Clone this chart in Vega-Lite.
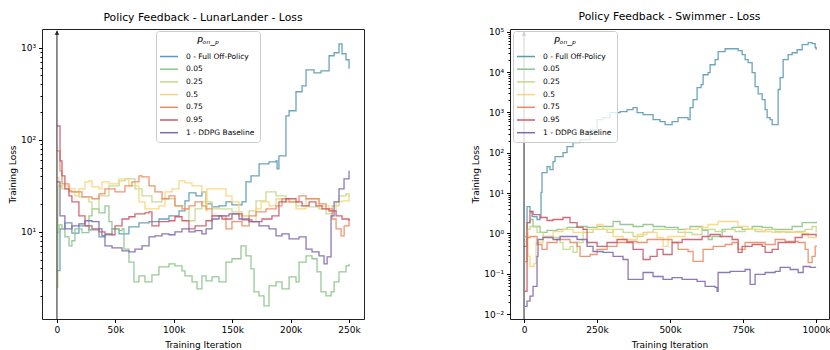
{
"$schema": "https://vega.github.io/schema/vega-lite/v6.json",
"background": "white",
"padding": {"left": 7, "top": 10, "right": 0, "bottom": 0},
"spacing": 106,
"config": {
 "font": "DejaVu Sans",
 "view": {"stroke": "#222", "strokeWidth": 1},
 "axis": {"grid": false, "domain": false, "tickColor": "#000", "labelColor": "#000", "titleColor": "#000", "labelFontSize": 9, "titleFontSize": 9, "titleFontWeight": "normal", "labelFont": "DejaVu Sans", "titleFont": "DejaVu Sans", "labelOverlap": false, "labelBound": false, "labelPadding": 3, "tickSize": 3.5},
 "axisX": {"titlePadding": 6},
 "legend": {"symbolType": "M-1.8,0L1.8,0", "symbolSize": 100, "symbolStrokeWidth": 1.5, "symbolOffset": 2, "labelOffset": 11, "labelFontSize": 7.5, "labelFont": "DejaVu Sans", "labelColor": "#000", "titleFontSize": 9.5, "titleFontStyle": "italic", "titleFontWeight": "normal", "titleFont": "DejaVu Sans", "titleColor": "#000", "titleAnchor": "middle", "strokeColor": "#cccccc", "fillColor": "rgba(255,255,255,0.8)", "cornerRadius": 3, "padding": 5, "rowPadding": 2.7}
},
"resolve": {"legend": {"color": "independent"}, "scale": {"x": "independent", "y": "independent"}},
"datasets": {
"lunar": [
{"p":"0","x":0,"y":3.8},{"p":"0","x":2600,"y":10.8},{"p":"0","x":6800,"y":12.5},{"p":"0","x":12800,"y":9.7},{"p":"0","x":18800,"y":11.6},{"p":"0","x":27400,"y":10.5},{"p":"0","x":36000,"y":8.8},{"p":"0","x":41100,"y":9.3},{"p":"0","x":47100,"y":10.8},{"p":"0","x":53100,"y":9.5},{"p":"0","x":61600,"y":11.3},{"p":"0","x":70200,"y":12.5},{"p":"0","x":78800,"y":12.9},{"p":"0","x":87300,"y":13.8},{"p":"0","x":95900,"y":14.9},{"p":"0","x":104500,"y":16.9},{"p":"0","x":109600,"y":21.7},{"p":"0","x":113000,"y":26.5},{"p":"0","x":119000,"y":24.6},{"p":"0","x":124100,"y":27.2},{"p":"0","x":127600,"y":20.1},{"p":"0","x":132700,"y":18.7},{"p":"0","x":138700,"y":19.2},{"p":"0","x":144700,"y":21.2},{"p":"0","x":149800,"y":19.6},{"p":"0","x":158400,"y":21.2},{"p":"0","x":161800,"y":34.9},{"p":"0","x":166100,"y":40.6},{"p":"0","x":173000,"y":54.8},{"p":"0","x":181500,"y":57.7},{"p":"0","x":187500,"y":59.1},{"p":"0","x":188400,"y":48.4},{"p":"0","x":190000,"y":67},{"p":"0","x":196000,"y":182},{"p":"0","x":198700,"y":207},{"p":"0","x":204600,"y":333},{"p":"0","x":209800,"y":386},{"p":"0","x":213200,"y":576},{"p":"0","x":220000,"y":535},{"p":"0","x":226000,"y":562},{"p":"0","x":232900,"y":819},{"p":"0","x":237200,"y":883},{"p":"0","x":241400,"y":1105},{"p":"0","x":244000,"y":861},{"p":"0","x":247400,"y":741},{"p":"0","x":250000,"y":591},
{"p":"0.05","x":0,"y":9.8},{"p":"0.05","x":1700,"y":11.9},{"p":"0.05","x":4300,"y":10.8},{"p":"0.05","x":6800,"y":8.8},{"p":"0.05","x":10300,"y":7.05},{"p":"0.05","x":12800,"y":8.0},{"p":"0.05","x":15400,"y":10.8},{"p":"0.05","x":21400,"y":9.8},{"p":"0.05","x":27400,"y":14.9},{"p":"0.05","x":30000,"y":17.8},{"p":"0.05","x":36000,"y":16.1},{"p":"0.05","x":41100,"y":19.2},{"p":"0.05","x":44500,"y":12.9},{"p":"0.05","x":47100,"y":10.8},{"p":"0.05","x":53100,"y":10.3},{"p":"0.05","x":55700,"y":10.8},{"p":"0.05","x":57400,"y":6.5},{"p":"0.05","x":61600,"y":4.7},{"p":"0.05","x":65900,"y":2.86},{"p":"0.05","x":70200,"y":3.32},{"p":"0.05","x":75300,"y":2.86},{"p":"0.05","x":81300,"y":3.41},{"p":"0.05","x":87300,"y":4.17},{"p":"0.05","x":95900,"y":4.49},{"p":"0.05","x":101000,"y":4.27},{"p":"0.05","x":107000,"y":3.77},{"p":"0.05","x":109600,"y":3.32},{"p":"0.05","x":115600,"y":2.86},{"p":"0.05","x":119900,"y":2.4},{"p":"0.05","x":124100,"y":3.32},{"p":"0.05","x":127600,"y":2.93},{"p":"0.05","x":132700,"y":3.24},{"p":"0.05","x":138700,"y":2.86},{"p":"0.05","x":144700,"y":4.7},{"p":"0.05","x":149800,"y":5.1},{"p":"0.05","x":157500,"y":7.05},{"p":"0.05","x":161800,"y":5.48},{"p":"0.05","x":166100,"y":3.96},{"p":"0.05","x":168700,"y":2.23},{"p":"0.05","x":173000,"y":2.02},{"p":"0.05","x":177200,"y":1.57},{"p":"0.05","x":181500,"y":2.59},{"p":"0.05","x":187500,"y":2.86},{"p":"0.05","x":192600,"y":2.4},{"p":"0.05","x":198700,"y":3.24},{"p":"0.05","x":204600,"y":2.86},{"p":"0.05","x":207200,"y":4.7},{"p":"0.05","x":213200,"y":5.48},{"p":"0.05","x":218300,"y":5.1},{"p":"0.05","x":222600,"y":3.67},{"p":"0.05","x":226000,"y":2.23},{"p":"0.05","x":230300,"y":2.02},{"p":"0.05","x":234600,"y":2.23},{"p":"0.05","x":237200,"y":2.86},{"p":"0.05","x":241400,"y":3.67},{"p":"0.05","x":247400,"y":4.27},{"p":"0.05","x":250000,"y":4.49},
{"p":"0.25","x":0,"y":2.5},{"p":"0.25","x":800,"y":31.6},{"p":"0.25","x":4300,"y":29.3},{"p":"0.25","x":10300,"y":27.2},{"p":"0.25","x":18800,"y":24},{"p":"0.25","x":27400,"y":21.2},{"p":"0.25","x":30000,"y":17.8},{"p":"0.25","x":36000,"y":24.6},{"p":"0.25","x":44500,"y":31.6},{"p":"0.25","x":53100,"y":35.8},{"p":"0.25","x":58200,"y":37.7},{"p":"0.25","x":66800,"y":29.3},{"p":"0.25","x":72800,"y":24.6},{"p":"0.25","x":81300,"y":21.2},{"p":"0.25","x":89900,"y":22.9},{"p":"0.25","x":101000,"y":19.2},{"p":"0.25","x":109600,"y":17.8},{"p":"0.25","x":113000,"y":13.2},{"p":"0.25","x":118200,"y":17.8},{"p":"0.25","x":124100,"y":21.2},{"p":"0.25","x":132700,"y":17.8},{"p":"0.25","x":141300,"y":17.8},{"p":"0.25","x":149800,"y":16.5},{"p":"0.25","x":158400,"y":14.9},{"p":"0.25","x":164400,"y":16.9},{"p":"0.25","x":170400,"y":21.7},{"p":"0.25","x":178900,"y":27.2},{"p":"0.25","x":187500,"y":24.6},{"p":"0.25","x":196000,"y":21.2},{"p":"0.25","x":204600,"y":19.2},{"p":"0.25","x":215800,"y":18.7},{"p":"0.25","x":224300,"y":17.8},{"p":"0.25","x":230300,"y":15.7},{"p":"0.25","x":235500,"y":19.2},{"p":"0.25","x":241400,"y":24.6},{"p":"0.25","x":247400,"y":25.9},{"p":"0.25","x":250000,"y":24},
{"p":"0.5","x":0,"y":38.6},{"p":"0.5","x":1700,"y":30.8},{"p":"0.5","x":4300,"y":31.6},{"p":"0.5","x":10300,"y":29.3},{"p":"0.5","x":15400,"y":24.6},{"p":"0.5","x":18800,"y":29.3},{"p":"0.5","x":24000,"y":34.9},{"p":"0.5","x":27400,"y":35.8},{"p":"0.5","x":30000,"y":30.8},{"p":"0.5","x":36000,"y":29.3},{"p":"0.5","x":38500,"y":34.9},{"p":"0.5","x":44500,"y":33.2},{"p":"0.5","x":53100,"y":37.7},{"p":"0.5","x":61600,"y":31.6},{"p":"0.5","x":70200,"y":21.2},{"p":"0.5","x":75300,"y":17.8},{"p":"0.5","x":81300,"y":17.8},{"p":"0.5","x":87300,"y":19.2},{"p":"0.5","x":92500,"y":27.2},{"p":"0.5","x":98500,"y":29.3},{"p":"0.5","x":104500,"y":35.8},{"p":"0.5","x":109600,"y":34.1},{"p":"0.5","x":115600,"y":31.6},{"p":"0.5","x":124100,"y":27.2},{"p":"0.5","x":127600,"y":16.9},{"p":"0.5","x":128400,"y":29.3},{"p":"0.5","x":134400,"y":29.3},{"p":"0.5","x":141300,"y":29.3},{"p":"0.5","x":144700,"y":24.6},{"p":"0.5","x":149800,"y":21.2},{"p":"0.5","x":155800,"y":14.9},{"p":"0.5","x":164400,"y":12.9},{"p":"0.5","x":170400,"y":17.8},{"p":"0.5","x":174700,"y":21.2},{"p":"0.5","x":181500,"y":19.2},{"p":"0.5","x":187500,"y":22.9},{"p":"0.5","x":192600,"y":21.2},{"p":"0.5","x":204600,"y":17.8},{"p":"0.5","x":213200,"y":22.9},{"p":"0.5","x":224300,"y":19.2},{"p":"0.5","x":232900,"y":16.9},{"p":"0.5","x":238900,"y":21.2},{"p":"0.5","x":244000,"y":21.7},{"p":"0.5","x":250000,"y":24.6},
{"p":"0.75","x":0,"y":75.9},{"p":"0.75","x":2600,"y":46},{"p":"0.75","x":4300,"y":33.2},{"p":"0.75","x":10300,"y":27.9},{"p":"0.75","x":12800,"y":27.2},{"p":"0.75","x":21400,"y":24},{"p":"0.75","x":30000,"y":22.9},{"p":"0.75","x":36000,"y":25.9},{"p":"0.75","x":41100,"y":29.3},{"p":"0.75","x":49700,"y":27.2},{"p":"0.75","x":58200,"y":31.6},{"p":"0.75","x":64200,"y":34.9},{"p":"0.75","x":70200,"y":40.6},{"p":"0.75","x":72800,"y":39.6},{"p":"0.75","x":78800,"y":31.6},{"p":"0.75","x":83900,"y":27.2},{"p":"0.75","x":89900,"y":22.9},{"p":"0.75","x":95900,"y":24.6},{"p":"0.75","x":101000,"y":19.2},{"p":"0.75","x":107000,"y":17.8},{"p":"0.75","x":113000,"y":19.2},{"p":"0.75","x":118200,"y":21.2},{"p":"0.75","x":124100,"y":19.2},{"p":"0.75","x":127600,"y":17.8},{"p":"0.75","x":132700,"y":14.9},{"p":"0.75","x":138700,"y":14.9},{"p":"0.75","x":144700,"y":10.8},{"p":"0.75","x":149800,"y":12.9},{"p":"0.75","x":158400,"y":11.6},{"p":"0.75","x":164400,"y":14.9},{"p":"0.75","x":170400,"y":16.5},{"p":"0.75","x":178900,"y":17.8},{"p":"0.75","x":187500,"y":19.2},{"p":"0.75","x":192600,"y":22.9},{"p":"0.75","x":198700,"y":21.2},{"p":"0.75","x":207200,"y":24.6},{"p":"0.75","x":213200,"y":22.9},{"p":"0.75","x":224300,"y":20.1},{"p":"0.75","x":230300,"y":17.8},{"p":"0.75","x":235500,"y":13.8},{"p":"0.75","x":238900,"y":10.8},{"p":"0.75","x":243200,"y":9.06},{"p":"0.75","x":245800,"y":11.6},{"p":"0.75","x":250000,"y":13.8},
{"p":"0.95","x":0,"y":142},{"p":"0.95","x":2600,"y":59.1},{"p":"0.95","x":4300,"y":40.6},{"p":"0.95","x":6800,"y":29.3},{"p":"0.95","x":10300,"y":24.6},{"p":"0.95","x":12800,"y":21.2},{"p":"0.95","x":18800,"y":14.9},{"p":"0.95","x":24000,"y":11.6},{"p":"0.95","x":30000,"y":10.8},{"p":"0.95","x":36000,"y":10},{"p":"0.95","x":41100,"y":9.5},{"p":"0.95","x":47100,"y":9.3},{"p":"0.95","x":49700,"y":11.6},{"p":"0.95","x":55700,"y":13.8},{"p":"0.95","x":61600,"y":14.6},{"p":"0.95","x":66800,"y":15.7},{"p":"0.95","x":75300,"y":16.1},{"p":"0.95","x":78800,"y":16.5},{"p":"0.95","x":81300,"y":11.6},{"p":"0.95","x":87300,"y":12.9},{"p":"0.95","x":95900,"y":13.2},{"p":"0.95","x":101000,"y":14.6},{"p":"0.95","x":107000,"y":13.2},{"p":"0.95","x":113000,"y":10.8},{"p":"0.95","x":118200,"y":11.6},{"p":"0.95","x":124100,"y":11.6},{"p":"0.95","x":127600,"y":13.2},{"p":"0.95","x":132700,"y":14.9},{"p":"0.95","x":141300,"y":13.8},{"p":"0.95","x":149800,"y":15.7},{"p":"0.95","x":158400,"y":13.5},{"p":"0.95","x":166900,"y":12.9},{"p":"0.95","x":175500,"y":13.8},{"p":"0.95","x":184000,"y":14.9},{"p":"0.95","x":190000,"y":21.2},{"p":"0.95","x":196000,"y":22.9},{"p":"0.95","x":204600,"y":21.2},{"p":"0.95","x":209800,"y":19.2},{"p":"0.95","x":215800,"y":21.2},{"p":"0.95","x":221700,"y":19.2},{"p":"0.95","x":226900,"y":17.8},{"p":"0.95","x":232900,"y":16.9},{"p":"0.95","x":238900,"y":14.9},{"p":"0.95","x":244000,"y":13.8},{"p":"0.95","x":250000,"y":13.2},
{"p":"1","x":0,"y":34.9},{"p":"1","x":2600,"y":14.9},{"p":"1","x":6800,"y":10.8},{"p":"1","x":12800,"y":11.6},{"p":"1","x":18800,"y":12.2},{"p":"1","x":24000,"y":13.2},{"p":"1","x":30000,"y":12.9},{"p":"1","x":36000,"y":10.8},{"p":"1","x":38500,"y":9.06},{"p":"1","x":41100,"y":7.05},{"p":"1","x":47100,"y":6.7},{"p":"1","x":55700,"y":6.22},{"p":"1","x":61600,"y":6.07},{"p":"1","x":66800,"y":6.5},{"p":"1","x":72800,"y":7.05},{"p":"1","x":78800,"y":8.8},{"p":"1","x":83900,"y":9.06},{"p":"1","x":89900,"y":9.5},{"p":"1","x":95900,"y":9.3},{"p":"1","x":101000,"y":10},{"p":"1","x":107000,"y":10.8},{"p":"1","x":113000,"y":10},{"p":"1","x":118200,"y":10.3},{"p":"1","x":124100,"y":9.5},{"p":"1","x":127600,"y":10.8},{"p":"1","x":132700,"y":13.8},{"p":"1","x":138700,"y":14.9},{"p":"1","x":147300,"y":15.7},{"p":"1","x":155800,"y":13.8},{"p":"1","x":164400,"y":12.9},{"p":"1","x":173000,"y":11.6},{"p":"1","x":181500,"y":10.8},{"p":"1","x":187500,"y":9.06},{"p":"1","x":192600,"y":9.5},{"p":"1","x":198700,"y":8.4},{"p":"1","x":207200,"y":8.8},{"p":"1","x":213200,"y":6.5},{"p":"1","x":218300,"y":6.07},{"p":"1","x":224300,"y":5.48},{"p":"1","x":228600,"y":4.49},{"p":"1","x":231200,"y":5.35},{"p":"1","x":234600,"y":14.9},{"p":"1","x":237200,"y":21.2},{"p":"1","x":241400,"y":29.3},{"p":"1","x":245700,"y":37.7},{"p":"1","x":250000,"y":46}
],
"swim": [
{"p":"0","x":0,"y":0.48},{"p":"0","x":10300,"y":4.66},{"p":"0","x":20500,"y":3.51},{"p":"0","x":27400,"y":2.63},{"p":"0","x":44500,"y":2.22},{"p":"0","x":54800,"y":2.49},{"p":"0","x":58200,"y":10.4},{"p":"0","x":61600,"y":32.3},{"p":"0","x":78800,"y":45.5},{"p":"0","x":89000,"y":38.4},{"p":"0","x":99300,"y":60.5},{"p":"0","x":106200,"y":80},{"p":"0","x":123300,"y":80},{"p":"0","x":133600,"y":101},{"p":"0","x":147300,"y":142},{"p":"0","x":167800,"y":179},{"p":"0","x":191800,"y":212},{"p":"0","x":226000,"y":375},{"p":"0","x":250000,"y":663},{"p":"0","x":270500,"y":743},{"p":"0","x":294500,"y":989},{"p":"0","x":328800,"y":1047},{"p":"0","x":352700,"y":1170},{"p":"0","x":373300,"y":1310},{"p":"0","x":387000,"y":989},{"p":"0","x":407500,"y":883},{"p":"0","x":441800,"y":663},{"p":"0","x":465800,"y":592},{"p":"0","x":482900,"y":499},{"p":"0","x":506800,"y":592},{"p":"0","x":527400,"y":743},{"p":"0","x":561600,"y":663},{"p":"0","x":568500,"y":1310},{"p":"0","x":578800,"y":2070},{"p":"0","x":592500,"y":4100},{"p":"0","x":606000,"y":4900},{"p":"0","x":613000,"y":8600},{"p":"0","x":630100,"y":9700},{"p":"0","x":637000,"y":15200},{"p":"0","x":654100,"y":20300},{"p":"0","x":664400,"y":32000},{"p":"0","x":688400,"y":37900},{"p":"0","x":715800,"y":37900},{"p":"0","x":732900,"y":33900},{"p":"0","x":746600,"y":27000},{"p":"0","x":756800,"y":20300},{"p":"0","x":767100,"y":17100},{"p":"0","x":780800,"y":9700},{"p":"0","x":791100,"y":4350},{"p":"0","x":801400,"y":2900},{"p":"0","x":815100,"y":2070},{"p":"0","x":825300,"y":1170},{"p":"0","x":832200,"y":743},{"p":"0","x":842500,"y":663},{"p":"0","x":849300,"y":499},{"p":"0","x":866500,"y":499},{"p":"0","x":869900,"y":3700},{"p":"0","x":876700,"y":7300},{"p":"0","x":887000,"y":20300},{"p":"0","x":904100,"y":27000},{"p":"0","x":917800,"y":30200},{"p":"0","x":935000,"y":35800},{"p":"0","x":952000,"y":47700},{"p":"0","x":972600,"y":53500},{"p":"0","x":986300,"y":50500},{"p":"0","x":996600,"y":40200},{"p":"0","x":1000000,"y":35800},
{"p":"0.05","x":3400,"y":0.84},{"p":"0.05","x":10300,"y":1.87},{"p":"0.05","x":20500,"y":2.22},{"p":"0.05","x":30800,"y":1.49},{"p":"0.05","x":54800,"y":1.06},{"p":"0.05","x":78800,"y":1.19},{"p":"0.05","x":113000,"y":1.26},{"p":"0.05","x":147300,"y":1.41},{"p":"0.05","x":181500,"y":1.49},{"p":"0.05","x":215800,"y":1.41},{"p":"0.05","x":250000,"y":1.49},{"p":"0.05","x":284200,"y":1.49},{"p":"0.05","x":304800,"y":1.98},{"p":"0.05","x":328800,"y":1.67},{"p":"0.05","x":373300,"y":1.49},{"p":"0.05","x":407500,"y":1.67},{"p":"0.05","x":441800,"y":1.49},{"p":"0.05","x":482900,"y":1.41},{"p":"0.05","x":527400,"y":1.26},{"p":"0.05","x":568500,"y":1.49},{"p":"0.05","x":609600,"y":1.19},{"p":"0.05","x":630100,"y":0.71},{"p":"0.05","x":643800,"y":0.843},{"p":"0.05","x":678100,"y":1.26},{"p":"0.05","x":712300,"y":1.41},{"p":"0.05","x":746600,"y":1.26},{"p":"0.05","x":780800,"y":1.49},{"p":"0.05","x":815100,"y":1.41},{"p":"0.05","x":849300,"y":1.26},{"p":"0.05","x":883600,"y":1.26},{"p":"0.05","x":917800,"y":1.49},{"p":"0.05","x":952000,"y":1.87},{"p":"0.05","x":979400,"y":1.87},{"p":"0.05","x":1000000,"y":1.98},
{"p":"0.25","x":3400,"y":0.634},{"p":"0.25","x":10300,"y":1.26},{"p":"0.25","x":20500,"y":1.49},{"p":"0.25","x":44500,"y":1.06},{"p":"0.25","x":65100,"y":0.843},{"p":"0.25","x":99300,"y":0.796},{"p":"0.25","x":123300,"y":0.598},{"p":"0.25","x":133600,"y":0.402},{"p":"0.25","x":157500,"y":0.477},{"p":"0.25","x":167800,"y":0.339},{"p":"0.25","x":181500,"y":0.598},{"p":"0.25","x":202100,"y":1.06},{"p":"0.25","x":236300,"y":1.26},{"p":"0.25","x":260300,"y":1.26},{"p":"0.25","x":284200,"y":1.06},{"p":"0.25","x":304800,"y":1.26},{"p":"0.25","x":339000,"y":1.06},{"p":"0.25","x":373300,"y":0.843},{"p":"0.25","x":407500,"y":1.06},{"p":"0.25","x":441800,"y":1.26},{"p":"0.25","x":482900,"y":1.26},{"p":"0.25","x":527400,"y":1.06},{"p":"0.25","x":575300,"y":0.944},{"p":"0.25","x":609600,"y":1.26},{"p":"0.25","x":654100,"y":1.12},{"p":"0.25","x":688400,"y":1.26},{"p":"0.25","x":722600,"y":1.12},{"p":"0.25","x":756800,"y":1.26},{"p":"0.25","x":791100,"y":1.12},{"p":"0.25","x":825300,"y":1.26},{"p":"0.25","x":859600,"y":1.12},{"p":"0.25","x":893800,"y":1.06},{"p":"0.25","x":928100,"y":1.12},{"p":"0.25","x":962300,"y":1.26},{"p":"0.25","x":986300,"y":1.49},{"p":"0.25","x":1000000,"y":1.06},
{"p":"0.5","x":6800,"y":1.12},{"p":"0.5","x":13700,"y":0.27},{"p":"0.5","x":20500,"y":0.152},{"p":"0.5","x":34200,"y":0.18},{"p":"0.5","x":41100,"y":0.598},{"p":"0.5","x":54800,"y":0.598},{"p":"0.5","x":65100,"y":0.843},{"p":"0.5","x":99300,"y":1.12},{"p":"0.5","x":133600,"y":1.26},{"p":"0.5","x":167800,"y":1.06},{"p":"0.5","x":202100,"y":1.26},{"p":"0.5","x":250000,"y":1.67},{"p":"0.5","x":270500,"y":1.26},{"p":"0.5","x":304800,"y":0.843},{"p":"0.5","x":339000,"y":0.71},{"p":"0.5","x":387000,"y":0.944},{"p":"0.5","x":421200,"y":1.06},{"p":"0.5","x":455500,"y":0.796},{"p":"0.5","x":476000,"y":0.477},{"p":"0.5","x":493200,"y":0.843},{"p":"0.5","x":517100,"y":0.843},{"p":"0.5","x":551400,"y":1.26},{"p":"0.5","x":595900,"y":1.41},{"p":"0.5","x":630100,"y":1.67},{"p":"0.5","x":664400,"y":1.98},{"p":"0.5","x":698700,"y":1.98},{"p":"0.5","x":732900,"y":1.49},{"p":"0.5","x":767100,"y":1.26},{"p":"0.5","x":815100,"y":1.12},{"p":"0.5","x":849300,"y":1.06},{"p":"0.5","x":883600,"y":1.12},{"p":"0.5","x":917800,"y":1.06},{"p":"0.5","x":952000,"y":1.0},{"p":"0.5","x":972600,"y":0.796},{"p":"0.5","x":1000000,"y":0.843},
{"p":"0.75","x":3400,"y":0.2},{"p":"0.75","x":10300,"y":0.796},{"p":"0.75","x":20500,"y":0.843},{"p":"0.75","x":44500,"y":0.534},{"p":"0.75","x":61600,"y":0.402},{"p":"0.75","x":78800,"y":0.598},{"p":"0.75","x":113000,"y":0.71},{"p":"0.75","x":157500,"y":0.598},{"p":"0.75","x":181500,"y":0.477},{"p":"0.75","x":191800,"y":0.27},{"p":"0.75","x":226000,"y":0.302},{"p":"0.75","x":250000,"y":0.402},{"p":"0.75","x":284200,"y":0.477},{"p":"0.75","x":318500,"y":0.598},{"p":"0.75","x":352700,"y":0.634},{"p":"0.75","x":387000,"y":0.598},{"p":"0.75","x":421200,"y":0.71},{"p":"0.75","x":455500,"y":0.71},{"p":"0.75","x":489800,"y":0.71},{"p":"0.75","x":506800,"y":0.598},{"p":"0.75","x":527400,"y":0.402},{"p":"0.75","x":561600,"y":0.358},{"p":"0.75","x":578800,"y":0.203},{"p":"0.75","x":609600,"y":0.203},{"p":"0.75","x":613000,"y":0.402},{"p":"0.75","x":647300,"y":0.477},{"p":"0.75","x":688400,"y":0.534},{"p":"0.75","x":712300,"y":0.598},{"p":"0.75","x":732900,"y":0.402},{"p":"0.75","x":756800,"y":0.598},{"p":"0.75","x":791100,"y":0.598},{"p":"0.75","x":825300,"y":0.534},{"p":"0.75","x":859600,"y":0.71},{"p":"0.75","x":893800,"y":0.634},{"p":"0.75","x":938400,"y":0.598},{"p":"0.75","x":962300,"y":0.402},{"p":"0.75","x":972600,"y":0.191},{"p":"0.75","x":986300,"y":0.27},{"p":"0.75","x":996600,"y":0.477},{"p":"0.75","x":1000000,"y":0.505},
{"p":"0.95","x":3400,"y":0.037},{"p":"0.95","x":10300,"y":1.87},{"p":"0.95","x":20500,"y":3.51},{"p":"0.95","x":30800,"y":2.95},{"p":"0.95","x":54800,"y":2.49},{"p":"0.95","x":78800,"y":2.1},{"p":"0.95","x":99300,"y":2.22},{"p":"0.95","x":133600,"y":2.49},{"p":"0.95","x":157500,"y":1.87},{"p":"0.95","x":181500,"y":1.41},{"p":"0.95","x":202100,"y":1.26},{"p":"0.95","x":215800,"y":0.598},{"p":"0.95","x":250000,"y":0.477},{"p":"0.95","x":284200,"y":0.598},{"p":"0.95","x":318500,"y":0.71},{"p":"0.95","x":352700,"y":0.598},{"p":"0.95","x":373300,"y":0.402},{"p":"0.95","x":407500,"y":0.227},{"p":"0.95","x":431500,"y":0.27},{"p":"0.95","x":455500,"y":0.402},{"p":"0.95","x":476000,"y":0.302},{"p":"0.95","x":506800,"y":0.598},{"p":"0.95","x":541100,"y":0.71},{"p":"0.95","x":575300,"y":0.71},{"p":"0.95","x":609600,"y":0.843},{"p":"0.95","x":637000,"y":0.944},{"p":"0.95","x":671300,"y":0.843},{"p":"0.95","x":712300,"y":0.71},{"p":"0.95","x":732900,"y":0.339},{"p":"0.95","x":746600,"y":0.477},{"p":"0.95","x":780800,"y":0.534},{"p":"0.95","x":815100,"y":0.477},{"p":"0.95","x":825300,"y":0.339},{"p":"0.95","x":849300,"y":0.402},{"p":"0.95","x":869900,"y":0.598},{"p":"0.95","x":911000,"y":0.598},{"p":"0.95","x":928100,"y":0.796},{"p":"0.95","x":952000,"y":0.944},{"p":"0.95","x":979400,"y":0.944},{"p":"0.95","x":1000000,"y":0.843},
{"p":"1","x":3400,"y":0.0156},{"p":"1","x":10300,"y":0.021},{"p":"1","x":20500,"y":0.028},{"p":"1","x":30800,"y":0.049},{"p":"1","x":44500,"y":0.27},{"p":"1","x":47900,"y":0.71},{"p":"1","x":65100,"y":0.796},{"p":"1","x":99300,"y":0.71},{"p":"1","x":123300,"y":0.843},{"p":"1","x":157500,"y":0.843},{"p":"1","x":181500,"y":0.71},{"p":"1","x":215800,"y":0.477},{"p":"1","x":236300,"y":0.358},{"p":"1","x":270500,"y":0.339},{"p":"1","x":304800,"y":0.27},{"p":"1","x":339000,"y":0.227},{"p":"1","x":352700,"y":0.227},{"p":"1","x":356200,"y":0.073},{"p":"1","x":387000,"y":0.073},{"p":"1","x":407500,"y":0.108},{"p":"1","x":441800,"y":0.086},{"p":"1","x":476000,"y":0.073},{"p":"1","x":506800,"y":0.081},{"p":"1","x":541100,"y":0.073},{"p":"1","x":592500,"y":0.065},{"p":"1","x":619900,"y":0.049},{"p":"1","x":654100,"y":0.046},{"p":"1","x":661000,"y":0.037},{"p":"1","x":664400,"y":0.108},{"p":"1","x":705500,"y":0.115},{"p":"1","x":756800,"y":0.128},{"p":"1","x":774000,"y":0.055},{"p":"1","x":791100,"y":0.097},{"p":"1","x":825300,"y":0.108},{"p":"1","x":859600,"y":0.115},{"p":"1","x":876700,"y":0.144},{"p":"1","x":911000,"y":0.128},{"p":"1","x":938400,"y":0.108},{"p":"1","x":955500,"y":0.152},{"p":"1","x":979400,"y":0.144},{"p":"1","x":1000000,"y":0.144}
]
},
"hconcat": [
{
 "width": 322, "height": 290,
 "title": {"text": "Policy Feedback - LunarLander - Loss", "frame": "group", "fontSize": 10.8, "fontWeight": "normal", "font": "DejaVu Sans", "color": "#000", "offset": 6},
 "layer": [
  {"data": {"name": "lunar"}, "mark": {"type": "line", "strokeWidth": 1.3, "strokeOpacity": 0.9, "interpolate": "step-after", "clip": true},
   "encoding": {
    "x": {"field": "x", "type": "quantitative", "scale": {"domain": [-12800, 262800], "nice": false, "zero": false},
      "axis": {"title": "Training Iteration", "values": [0, 50000, 100000, 150000, 200000, 250000], "labelExpr": "datum.value == 0 ? '0' : (datum.value / 1000) + 'k'"}},
    "y": {"field": "y", "type": "quantitative", "scale": {"type": "log", "domain": [1.13, 1600], "nice": false, "zero": false},
      "axis": {"title": "Training Loss", "titlePadding": 3, "values": [2,3,4,5,6,7,8,9,10,20,30,40,50,60,70,80,90,100,200,300,400,500,600,700,800,900,1000],
        "labelExpr": "datum.value == 1000 ? '10³' : datum.value == 100 ? '10²' : datum.value == 10 ? '10¹' : ''",
        "tickSize": {"condition": {"test": "abs(log(datum.value)/LN10 - round(log(datum.value)/LN10)) < 0.001", "value": 3.5}, "value": 2}}},
    "color": {"field": "p", "type": "nominal",
      "scale": {"domain": ["0", "0.05", "0.25", "0.5", "0.75", "0.95", "1"], "range": ["#5b9ab5", "#8cc48c", "#c2d88a", "#f9d57a", "#ec8b62", "#cc5a69", "#7f6aad"]},
      "legend": {"title": "Pₒₙ_ₚ", "orient": "none", "legendX": 114, "legendY": 2, "labelExpr": "datum.label == '0' ? '0 - Full Off-Policy' : datum.label == '1' ? '1 - DDPG Baseline' : datum.label"}}
   }},
  {"data": {"values": [{"x": 0, "y": 1.13, "y2": 1530}]}, "mark": {"type": "rule", "color": "#222", "strokeWidth": 1},
   "encoding": {"x": {"field": "x", "type": "quantitative"}, "y": {"field": "y", "type": "quantitative"}, "y2": {"field": "y2"}}},
  {"data": {"values": [{"x": 0, "y": 1530}]}, "mark": {"type": "point", "shape": "triangle-up", "filled": true, "size": 22, "color": "#222", "opacity": 1, "yOffset": 2},
   "encoding": {"x": {"field": "x", "type": "quantitative"}, "y": {"field": "y", "type": "quantitative"}}}
 ]
},
{
 "width": 319, "height": 290,
 "title": {"text": "Policy Feedback - Swimmer - Loss", "frame": "group", "fontSize": 10.8, "fontWeight": "normal", "font": "DejaVu Sans", "color": "#000", "offset": 6},
 "layer": [
  {"data": {"name": "swim"}, "mark": {"type": "line", "strokeWidth": 1.3, "strokeOpacity": 0.9, "interpolate": "step-after", "clip": true},
   "encoding": {
    "x": {"field": "x", "type": "quantitative", "scale": {"domain": [-48000, 1044000], "nice": false, "zero": false},
      "axis": {"title": "Training Iteration", "values": [0, 250000, 500000, 750000, 1000000], "labelExpr": "datum.value == 0 ? '0' : (datum.value / 1000) + 'k'"}},
    "y": {"field": "y", "type": "quantitative", "scale": {"type": "log", "domain": [0.0076, 117000], "nice": false, "zero": false},
      "axis": {"title": "Training Loss", "titlePadding": 3, "values": [0.01,0.02,0.03,0.04,0.05,0.06,0.07,0.08,0.09,0.1,0.2,0.3,0.4,0.5,0.6,0.7,0.8,0.9,1,2,3,4,5,6,7,8,9,10,20,30,40,50,60,70,80,90,100,200,300,400,500,600,700,800,900,1000,2000,3000,4000,5000,6000,7000,8000,9000,10000,20000,30000,40000,50000,60000,70000,80000,90000,100000],
        "labelExpr": "datum.value == 100000 ? '10⁵' : datum.value == 10000 ? '10⁴' : datum.value == 1000 ? '10³' : datum.value == 100 ? '10²' : datum.value == 10 ? '10¹' : datum.value == 1 ? '10⁰' : datum.value == 0.1 ? '10⁻¹' : datum.value == 0.01 ? '10⁻²' : ''",
        "tickSize": {"condition": {"test": "abs(log(datum.value)/LN10 - round(log(datum.value)/LN10)) < 0.001", "value": 3.5}, "value": 2}}},
    "color": {"field": "p", "type": "nominal",
      "scale": {"domain": ["0", "0.05", "0.25", "0.5", "0.75", "0.95", "1"], "range": ["#5b9ab5", "#8cc48c", "#c2d88a", "#f9d57a", "#ec8b62", "#cc5a69", "#7f6aad"]},
      "legend": {"title": "Pₒₙ_ₚ", "orient": "none", "legendX": 3, "legendY": 2, "labelExpr": "datum.label == '0' ? '0 - Full Off-Policy' : datum.label == '1' ? '1 - DDPG Baseline' : datum.label"}}
   }},
  {"data": {"values": [{"x": 0, "y": 0.0076, "y2": 100000}]}, "mark": {"type": "rule", "color": "#222", "strokeWidth": 1},
   "encoding": {"x": {"field": "x", "type": "quantitative"}, "y": {"field": "y", "type": "quantitative"}, "y2": {"field": "y2"}}},
  {"data": {"values": [{"x": 0, "y": 100000}]}, "mark": {"type": "point", "shape": "triangle-up", "filled": true, "size": 22, "color": "#222", "opacity": 1, "yOffset": 2},
   "encoding": {"x": {"field": "x", "type": "quantitative"}, "y": {"field": "y", "type": "quantitative"}}}
 ]
}
]
}
